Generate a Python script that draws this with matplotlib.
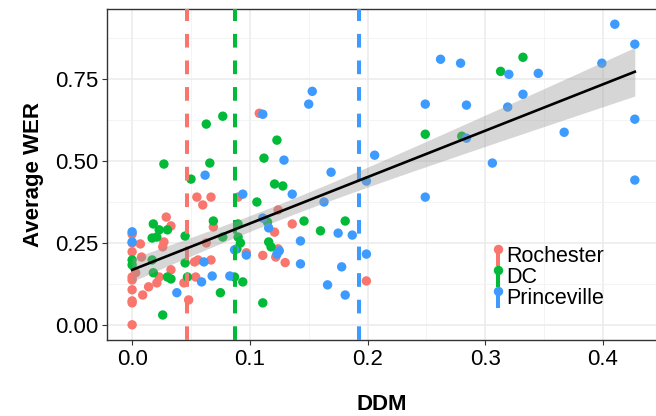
import numpy as np
import matplotlib
matplotlib.use("Agg")
import matplotlib.pyplot as plt
from matplotlib.legend_handler import HandlerBase
from matplotlib.lines import Line2D

plt.rcParams['font.family'] = ['Liberation Sans', 'DejaVu Sans']

groups = ["Rochester", "DC", "Princeville"]
colors = ["#F8766D", "#00BA38", "#3D9BFF"]

roch_x = [0, 0, 0, 0, 0, 0, 0, 0, 0,
          0.007, 0.008, 0.003, 0.009, 0.014, 0.021, 0.023,
          0.026, 0.027, 0.029, 0.033, 0.033, 0.044, 0.048,
          0.055, 0.060, 0.067, 0.056, 0.053, 0.054, 0.067,
          0.069, 0.063, 0.090, 0.097, 0.111, 0.122, 0.124,
          0.121, 0.108, 0.124, 0.136, 0.130, 0.199]
roch_y = [0.000, 0.067, 0.073, 0.107, 0.137, 0.146, 0.277, 0.250, 0.223,
          0.247, 0.207, 0.159, 0.091, 0.116, 0.128, 0.146,
          0.238, 0.253, 0.329, 0.302, 0.168, 0.128, 0.076,
          0.390, 0.366, 0.390, 0.198, 0.192, 0.146, 0.198,
          0.299, 0.250, 0.390, 0.220, 0.212, 0.207, 0.232,
          0.283, 0.646, 0.351, 0.308, 0.190, 0.134]

dc_x = [0.027, 0.063, 0.077, 0.066, 0.112, 0.123, 0.050,
        0.121, 0.128, 0.146, 0.160, 0.181, 0.249, 0.280,
        0.313, 0.332, 0.106, 0.069, 0.090, 0.077, 0.090,
        0.092, 0.089, 0.116, 0.118, 0.115, 0.045, 0.018,
        0.023, 0.030, 0.017, 0.021, 0.000, 0.000, 0.017, 0.018,
        0.030, 0.033, 0.045, 0.047, 0.026, 0.075, 0.087,
        0.094, 0.111]
dc_y = [0.491, 0.613, 0.637, 0.494, 0.509, 0.564, 0.445,
        0.430, 0.424, 0.317, 0.287, 0.317, 0.582, 0.576,
        0.774, 0.817, 0.375, 0.317, 0.308, 0.268, 0.268,
        0.250, 0.232, 0.253, 0.238, 0.314, 0.271, 0.308,
        0.290, 0.290, 0.265, 0.268, 0.198, 0.183, 0.198, 0.159,
        0.146, 0.140, 0.189, 0.146, 0.030, 0.098, 0.146,
        0.131, 0.067]

prince_x = [0.000, 0.000, 0.038, 0.062, 0.111, 0.094, 0.111, 0.116, 0.123,
            0.087, 0.097, 0.061, 0.059, 0.068, 0.083, 0.153, 0.150,
            0.129, 0.169, 0.136, 0.163, 0.125, 0.143, 0.143, 0.175,
            0.187, 0.178, 0.166, 0.181, 0.199, 0.199, 0.206, 0.249,
            0.249, 0.262, 0.279, 0.284, 0.284, 0.320, 0.345, 0.332,
            0.319, 0.306, 0.367, 0.399, 0.410, 0.427, 0.427, 0.427]
prince_y = [0.284, 0.253, 0.098, 0.457, 0.643, 0.399, 0.326, 0.296, 0.216,
            0.229, 0.213, 0.192, 0.131, 0.149, 0.149, 0.713, 0.674,
            0.503, 0.466, 0.399, 0.375, 0.226, 0.256, 0.186, 0.280,
            0.274, 0.177, 0.122, 0.091, 0.216, 0.439, 0.518, 0.674,
            0.390, 0.811, 0.799, 0.671, 0.570, 0.765, 0.768, 0.704,
            0.665, 0.494, 0.588, 0.799, 0.918, 0.857, 0.628, 0.442]

vline_ddm = [0.0468, 0.0877, 0.193]
t_975 = 1.976

xs = [roch_x, dc_x, prince_x]
ys = [roch_y, dc_y, prince_y]

fig = plt.figure(figsize=(6.56, 4.16), dpi=100)
ax = fig.add_axes([0.163, 0.183, 0.837, 0.795])

ax.set_xlim(-0.0214, 0.445)
ax.set_ylim(-0.046, 0.964)

ax.set_xticks([0.0, 0.1, 0.2, 0.3, 0.4])
ax.set_xticklabels(["0.0", "0.1", "0.2", "0.3", "0.4"])
ax.set_yticks([0.0, 0.25, 0.5, 0.75])
ax.set_yticklabels(["0.00", "0.25", "0.50", "0.75"])
ax.set_xticks([0.05, 0.15, 0.25, 0.35], minor=True)
ax.set_yticks([0.125, 0.375, 0.625, 0.875], minor=True)
ax.grid(which='major', color='#EBEBEB', lw=1.1, zorder=0)
ax.grid(which='minor', color='#F2F2F2', lw=0.6, zorder=0)
ax.tick_params(which='minor', length=0)
ax.tick_params(which='major', length=3.5, width=0.8, color='#333333',
               labelsize=16, labelcolor='black', pad=3)
for s in ['left', 'bottom', 'top']:
    ax.spines[s].set_color('#333333')
    ax.spines[s].set_linewidth(1.0)
ax.spines['right'].set_visible(False)

for gx, gy, c in zip(xs, ys, colors):
    ax.scatter(gx, gy, s=46, color=c, edgecolors='none', zorder=3)

for v, c in zip(vline_ddm, colors):
    ax.axvline(v, color=c, lw=2.9, linestyle=(0, (3.4, 3.2)), zorder=4)

# linear fit with 95% CI
ax_all = np.concatenate([np.asarray(a, float) for a in xs])
ay_all = np.concatenate([np.asarray(a, float) for a in ys])
n = len(ax_all)
b1, b0 = np.polyfit(ax_all, ay_all, 1)
resid = ay_all - (b0 + b1 * ax_all)
s2 = np.sum(resid ** 2) / (n - 2)
xm = ax_all.mean()
sxx = np.sum((ax_all - xm) ** 2)
xg = np.linspace(ax_all.min(), ax_all.max(), 100)
yg = b0 + b1 * xg
se = np.sqrt(s2 * (1.0 / n + (xg - xm) ** 2 / sxx))
ax.fill_between(xg, yg - t_975 * se, yg + t_975 * se, color='#999999',
                alpha=0.4, lw=0, zorder=5)
ax.plot(xg, yg, color='black', lw=1.9, zorder=6)

ax.set_xlabel("DDM", fontsize=16, fontweight='bold', labelpad=17)
ax.set_ylabel("Average WER", fontsize=16, fontweight='bold', labelpad=8)


class KeyHandler(HandlerBase):
    def create_artists(self, legend, orig_handle, xdescent, ydescent,
                       width, height, fontsize, trans):
        c = orig_handle.get_color()
        cx = width / 2 - xdescent
        top = height * 0.85 - ydescent
        bot = -ydescent - height * 0.25
        ln = Line2D([cx, cx], [bot, top], color=c, lw=2.9, transform=trans,
                    solid_capstyle='butt')
        pt = Line2D([cx], [top], marker='o', markersize=6.8, color=c,
                    markeredgewidth=0, transform=trans)
        return [ln, pt]


handles = [Line2D([], [], color=c) for c in colors]
leg = ax.legend(handles, groups, handler_map={Line2D: KeyHandler()},
                loc='upper left', bbox_to_anchor=(0.70, 0.283),
                frameon=False, fontsize=15.5, handlelength=0.58,
                handletextpad=0.13, labelspacing=0.0, borderpad=0.0,
                borderaxespad=0.0)
leg.set_zorder(10)

fig.savefig("out.png", dpi=100)
